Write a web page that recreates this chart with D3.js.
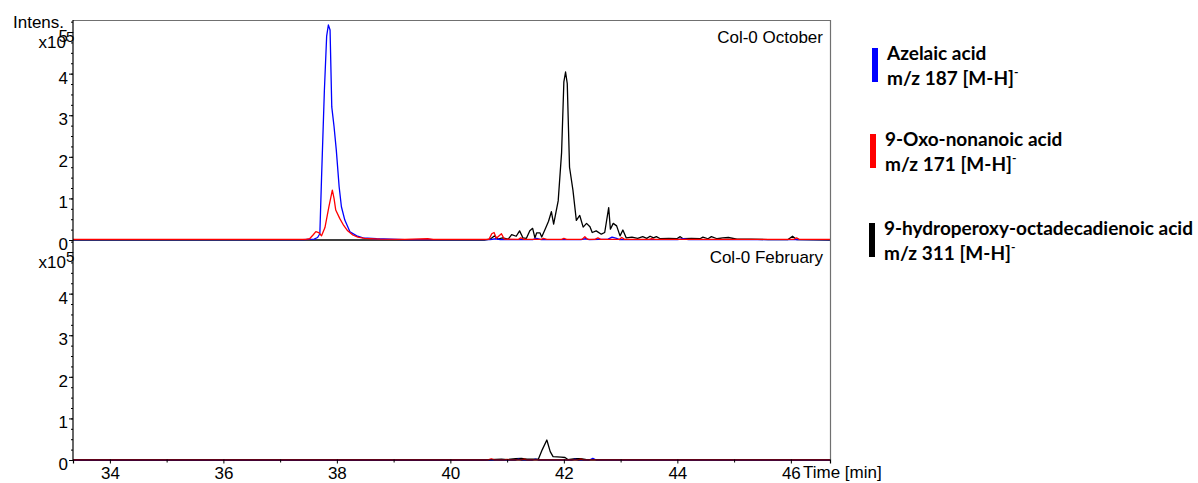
<!DOCTYPE html>
<html>
<head>
<meta charset="utf-8">
<script src="https://cdn.jsdelivr.net/npm/d3@7"></script>
<style>
  body { margin: 0; background: #fff; }
  svg text { font-family: "Liberation Sans", Arial, sans-serif; }
  .legend text { font-family: Lato, "Open Sans", sans-serif; font-weight: bold; }
</style>
</head>
<body>
<svg width="1198" height="483"></svg>
<script>
// EIC traces, [time (min), intensity (x10^5)]
var octAzelaic = [[33.35,0.01],[37.4,0.01],[37.6,0.02],[37.66,0.06],[37.70,0.15],[37.73,1.5],[37.78,3.6],[37.82,4.9],[37.85,5.17],[37.88,5.05],[37.91,3.2],[37.95,2.73],[37.99,2.16],[38.04,1.28],[38.08,0.8],[38.14,0.48],[38.23,0.2],[38.35,0.1],[38.46,0.05],[38.7,0.03],[39.2,0.01],[40.7,0.01],[40.8,0.03],[40.88,0.01],[41.45,0.01],[41.52,0.04],[41.6,0.01],[42.3,0.01],[42.38,0.03],[42.45,0.01],[42.78,0.02],[42.85,0.07],[42.93,0.04],[42.98,0.01],[44.0,0.01],[44.1,0.03],[44.2,0.01],[46.69,0.01]];
var octOxo = [[33.35,0.015],[37.45,0.015],[37.52,0.03],[37.58,0.12],[37.63,0.2],[37.68,0.18],[37.73,0.1],[37.79,0.3],[37.86,0.8],[37.92,1.2],[37.95,1.0],[37.98,0.72],[38.05,0.52],[38.12,0.35],[38.19,0.22],[38.28,0.12],[38.37,0.07],[38.49,0.04],[38.76,0.02],[39.2,0.015],[39.6,0.03],[39.7,0.015],[40.68,0.015],[40.73,0.15],[40.77,0.18],[40.81,0.04],[40.86,0.1],[40.9,0.15],[40.95,0.02],[41.2,0.015],[41.24,0.05],[41.3,0.015],[41.6,0.015],[41.64,0.04],[41.7,0.015],[41.96,0.015],[42.0,0.04],[42.05,0.015],[42.32,0.015],[42.37,0.08],[42.42,0.015],[42.55,0.015],[42.6,0.05],[42.65,0.015],[42.98,0.015],[43.02,0.06],[43.07,0.015],[43.5,0.015],[43.55,0.03],[43.6,0.015],[46.05,0.015],[46.1,0.05],[46.15,0.015],[46.69,0.015]];
var octHpode = [[33.35,0.0],[40.6,0.0],[40.7,0.02],[40.78,0.1],[40.84,0.02],[40.92,0.05],[41.02,0.02],[41.08,0.13],[41.16,0.09],[41.22,0.22],[41.28,0.05],[41.34,0.04],[41.40,0.22],[41.45,0.28],[41.49,0.05],[41.52,0.17],[41.58,0.17],[41.61,0.07],[41.67,0.26],[41.73,0.45],[41.78,0.68],[41.82,0.38],[41.90,0.94],[41.96,2.1],[42.0,3.8],[42.03,4.04],[42.06,3.76],[42.1,1.75],[42.16,1.2],[42.22,0.47],[42.28,0.59],[42.34,0.31],[42.4,0.4],[42.46,0.32],[42.5,0.18],[42.57,0.22],[42.66,0.14],[42.72,0.18],[42.79,0.78],[42.82,0.26],[42.87,0.4],[42.93,0.34],[42.99,0.1],[43.04,0.24],[43.1,0.05],[43.2,0.07],[43.3,0.04],[43.39,0.08],[43.46,0.04],[43.52,0.09],[43.58,0.05],[43.63,0.08],[43.7,0.03],[43.85,0.04],[43.99,0.03],[44.05,0.08],[44.1,0.03],[44.25,0.04],[44.4,0.03],[44.45,0.07],[44.54,0.03],[44.6,0.08],[44.7,0.03],[44.8,0.05],[44.9,0.06],[45.05,0.02],[45.3,0.02],[45.6,0.01],[45.95,0.01],[46.03,0.09],[46.1,0.01],[46.69,0.0]];

var febAzelaic = [[33.35,0.0],[41.15,0.0],[41.2,0.02],[41.25,0.0],[41.45,0.0],[41.5,0.02],[41.55,0.0],[42.15,0.0],[42.2,0.02],[42.25,0.0],[42.45,0.0],[42.51,0.04],[42.57,0.0],[46.69,0.0]];
var febOxo = [[33.35,0.005],[40.66,0.005],[40.72,0.03],[40.78,0.005],[40.95,0.005],[41.0,0.015],[41.05,0.005],[41.25,0.005],[41.3,0.02],[41.35,0.005],[42.25,0.005],[42.3,0.02],[42.35,0.005],[46.69,0.005]];
var febHpode = [[33.35,0.0],[40.6,0.0],[40.9,0.02],[41.0,0.01],[41.15,0.03],[41.25,0.04],[41.35,0.02],[41.55,0.02],[41.62,0.25],[41.70,0.48],[41.76,0.2],[41.81,0.08],[41.95,0.07],[42.02,0.06],[42.07,0.01],[42.2,0.03],[42.3,0.03],[42.4,0.01],[46.69,0.0]];

var xTicks = [34, 36, 38, 40, 42, 44, 46];
var xMinor = [35, 37, 39, 41, 43, 45];
var panelNames = ["Col-0 October", "Col-0 February"];
var legendNames = ["Azelaic acid", "9-Oxo-nonanoic acid", "9-hydroperoxy-octadecadienoic acid"];
var legendIons = ["m/z 187 [M-H]", "m/z 171 [M-H]", "m/z 311 [M-H]"];
var colors = ["#0000ff", "#ff0000", "#000000"];

var svg = d3.select("svg");

var left = 73, right = 830,
    panelTop = [20, 240], panelH = 220;

var x = d3.scaleLinear().domain([33.35, 46.69]).range([left, right]);

var panels = [
  {name: panelNames[0], traces: [octHpode, octAzelaic, octOxo], labels: [0, 1, 2, 3, 4, 5]},
  {name: panelNames[1], traces: [febHpode, febAzelaic, febOxo], labels: [0, 1, 2, 3, 4]}
];
var traceColors = [colors[2], colors[0], colors[1]];

panels.forEach(function(p, i) {
  var y = d3.scaleLinear().domain([0, 5.29]).range([panelTop[i] + panelH, panelTop[i]]);
  var g = svg.append("g");

  // minor ticks on intensity axis
  g.append("g")
    .attr("transform", "translate(" + left + ",0)")
    .call(d3.axisLeft(y).tickValues(d3.range(0, 5.26, 0.25)).tickSize(2).tickFormat(""))
    .call(function(a) { a.select(".domain").remove(); });

  var ya = g.append("g")
    .attr("transform", "translate(" + left + ",0)")
    .call(d3.axisLeft(y).tickValues([0, 1, 2, 3, 4, 5]).tickSize(4).tickPadding(1)
      .tickFormat(function(d) { return p.labels.indexOf(d) >= 0 ? d : ""; }));
  ya.select(".domain").remove();
  ya.selectAll("text").attr("font-size", 17).attr("font-family", null).attr("dy", "0.55em").attr("fill", "#000");

  var line = d3.line()
    .x(function(d) { return x(d[0]); })
    .y(function(d) { return y(d[1]); });

  p.traces.forEach(function(t, k) {
    g.append("path")
      .datum(t)
      .attr("d", line)
      .attr("fill", "none")
      .attr("stroke", traceColors[k])
      .attr("stroke-width", 1.3)
      .attr("stroke-linejoin", "round");
  });

  g.append("text")
    .attr("x", 823)
    .attr("y", panelTop[i] + 23)
    .attr("text-anchor", "end")
    .attr("font-size", 17)
    .text(p.name);

  // intensity multiplier, sits on top of the axis labels like the DataAnalysis export
  g.append("text")
    .attr("x", 66)
    .attr("y", panelTop[i] + 28)
    .attr("text-anchor", "end")
    .attr("font-size", 17)
    .text("x10");
  g.append("text")
    .attr("x", 66)
    .attr("y", panelTop[i] + 22)
    .attr("font-size", 15)
    .text("5");
});

// frame
svg.append("path")
  .attr("d", "M" + left + "," + 20.5 + "H" + (right + 0.5) + "V" + 460)
  .attr("fill", "none")
  .attr("stroke", "#707070")
  .attr("stroke-width", 1.2);
svg.append("line")
  .attr("x1", left).attr("x2", left)
  .attr("y1", 20).attr("y2", 460)
  .attr("stroke", "#000").attr("stroke-width", 1.2);

// time axis
var xa = svg.append("g")
  .attr("transform", "translate(0,459.5)")
  .call(d3.axisBottom(x).tickValues(xTicks).tickSize(4).tickPadding(3).tickFormat(d3.format("d")));
xa.select(".domain").attr("stroke", "#000").attr("stroke-width", 1.2);
xa.selectAll("text").attr("font-size", 17).attr("font-family", null);
svg.append("g")
  .attr("transform", "translate(0,459.5)")
  .call(d3.axisBottom(x).tickValues(xMinor).tickSize(3).tickFormat(""))
  .call(function(a) { a.select(".domain").remove(); });

svg.append("text")
  .attr("x", 803)
  .attr("y", 478)
  .attr("font-size", 17)
  .text("Time [min]");

svg.append("text")
  .attr("x", 13)
  .attr("y", 28)
  .attr("font-size", 17)
  .text("Intens.");

// legend
var legend = svg.append("g").attr("class", "legend");
var legendY = [48, 134, 223];
var legendX = [887, 885, 884];
legendNames.forEach(function(n, i) {
  legend.append("rect")
    .attr("x", legendX[i] - 15)
    .attr("y", legendY[i])
    .attr("width", 6)
    .attr("height", 34)
    .attr("fill", colors[i]);
  legend.append("text")
    .attr("x", legendX[i])
    .attr("y", legendY[i] + 12)
    .attr("font-size", 19)
    .text(n);
  var t = legend.append("text")
    .attr("x", legendX[i])
    .attr("y", legendY[i] + 37)
    .attr("font-size", 19)
    .text(legendIons[i]);
  t.append("tspan")
    .attr("dy", -9)
    .attr("font-size", 12)
    .text("-");
});
</script>
</body>
</html>
